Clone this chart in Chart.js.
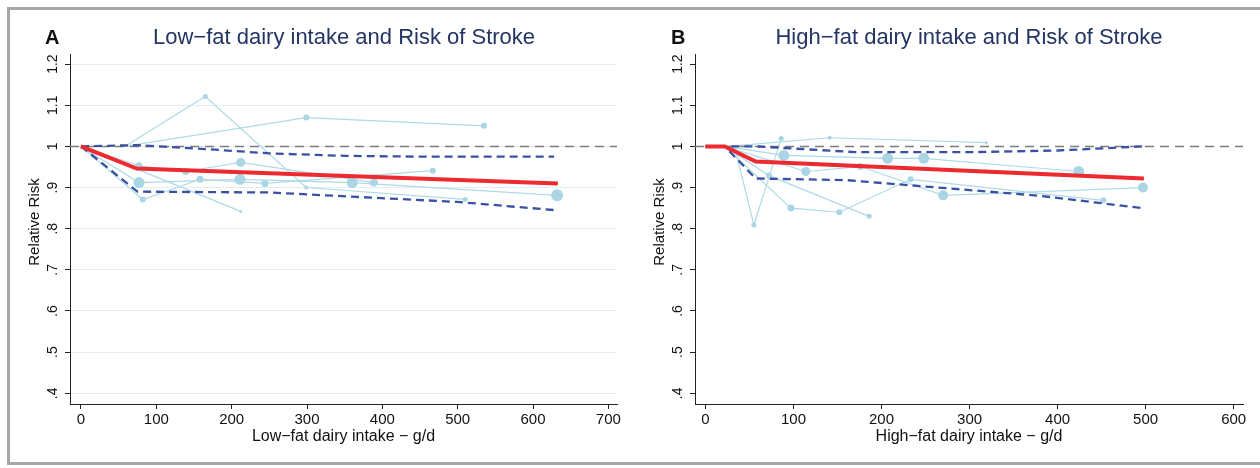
<!DOCTYPE html>
<html>
<head>
<meta charset="utf-8">
<script src="https://cdn.jsdelivr.net/npm/chart.js@4.4.0/dist/chart.umd.min.js"></script>
<style>
  body { margin: 0; background: #fff; width: 1260px; height: 468px; overflow: hidden; position: relative; font-family: "Liberation Sans", Arial, sans-serif; }
  canvas { position: absolute; top: 0; }
  .frame { position: absolute; left: 7px; top: 7px; width: 1300px; height: 452px; border: 3px solid #a6a6a6; border-right: none; }
  .letter { position: absolute; top: 26px; font-size: 20px; font-weight: bold; color: #111; line-height: 22px; }
  .title { position: absolute; top: 24px; font-size: 22px; color: #243463; line-height: 26px; transform: translateX(-50%); white-space: nowrap; }
</style>
</head>
<body>
<div class="frame"></div>
<canvas id="chartA" width="630" height="468" style="left:0"></canvas>
<canvas id="chartB" width="630" height="468" style="left:630px"></canvas>
<div class="letter" style="left:45px">A</div>
<div class="title" style="left:344px">Low−fat dairy intake and Risk of Stroke</div>
<div class="letter" style="left:671px">B</div>
<div class="title" style="left:969px">High−fat dairy intake and Risk of Stroke</div>
<script>
// 軸刻度
const yTickValues = [0.4, 0.5, 0.6, 0.7, 0.8, 0.9, 1, 1.1, 1.2];
const yTickLabels = ['.4', '.5', '.6', '.7', '.8', '.9', '1', '1.1', '1.2'];
const lowTickValues = [0, 100, 200, 300, 400, 500, 600, 700];
const highTickValues = [0, 100, 200, 300, 400, 500, 600];

// A: low-fat dairy, each study's curve (dose g/d, relative risk)
const lowStudyDose = [
    [58, 165, 299, 510],
    [58, 299, 535],
    [0, 77, 211, 360, 632],
    [0, 77, 139, 212, 389],
    [0, 82, 158, 244, 467],
    [0, 212]
];
const lowStudyRR = [
    [1, 1.121, 0.900, 0.871],
    [1, 1.070, 1.050],
    [1, 0.912, 0.920, 0.912, 0.881],
    [1, 0.953, 0.939, 0.961, 0.912],
    [1, 0.871, 0.920, 0.910, 0.941],
    [1, 0.842]
];
// pooled curve and 95% CI
const lowFitDose = [0, 74, 633];
const lowFitRR = [1, 0.946, 0.910];
const lowUpperDose = [0, 74, 170, 250, 350, 450, 628];
const lowUpperRR = [1, 1.003, 0.993, 0.983, 0.977, 0.975, 0.975];
const lowLowerDose = [0, 75, 250, 500, 630];
const lowLowerRR = [1, 0.890, 0.888, 0.865, 0.845];

// B: high-fat dairy
const highStudyDose = [
    [33, 55, 86],
    [25, 141, 319],
    [22, 89, 207, 248, 424],
    [22, 114, 176, 270, 497],
    [22, 72, 186],
    [22, 97, 152, 233, 452]
];
const highStudyRR = [
    [1, 0.809, 1.019],
    [1, 1.021, 1.009],
    [1, 0.978, 0.971, 0.971, 0.939],
    [1, 0.939, 0.951, 0.881, 0.900],
    [1, 0.929, 0.830],
    [1, 0.850, 0.840, 0.920, 0.869]
];
const highFitDose = [0, 22, 57, 498];
const highFitRR = [1, 1, 0.963, 0.922];
const highUpperDose = [0, 22, 57, 170, 300, 400, 496];
const highUpperRR = [1, 1, 1, 0.986, 0.986, 0.990, 1];
const highLowerDose = [0, 22, 57, 160, 380, 496];
const highLowerRR = [1, 1, 0.922, 0.918, 0.880, 0.850];

// 標記大小 (study weight look)
const lowMarkerRadius = [[0, 2.5, 2, 2.5], [0, 3, 3], [0, 5.5, 5.5, 5.5, 6], [0, 3.5, 3.5, 4.5, 4], [0, 3, 3.5, 3.5, 3], [0, 1.5]];
const highMarkerRadius = [[0, 2.5, 2.5], [0, 2, 1.5], [0, 5.5, 5.5, 5.5, 5.5], [0, 4.5, 3.5, 5, 5], [0, 3, 2.5], [0, 3.5, 3, 3, 3]];

const FONT = '"Liberation Sans", Arial, sans-serif';

function toPoints(xs, ys) {
    return xs.map((x, i) => ({ x: x, y: ys[i] }));
}

// 座標軸文字 (rotated y labels, axis titles)
const axisTextPlugin = {
    id: 'axisText',
    afterDraw(chart) {
        const cfg = chart.options.plugins.axisText;
        const ys = chart.scales.y;
        const area = chart.chartArea;
        const ctx = chart.ctx;
        ctx.save();
        ctx.fillStyle = '#111';
        ctx.textAlign = 'center';
        ctx.textBaseline = 'middle';
        ctx.font = '14px ' + FONT;
        yTickValues.forEach((v, i) => {
            ctx.save();
            ctx.translate(area.left - 17, ys.getPixelForValue(v));
            ctx.rotate(-Math.PI / 2);
            ctx.fillText(yTickLabels[i], 0, 0);
            ctx.restore();
        });
        ctx.font = '15px ' + FONT;
        ctx.save();
        ctx.translate(area.left - 35, 222);
        ctx.rotate(-Math.PI / 2);
        ctx.fillText(cfg.yTitle, 0, 0);
        ctx.restore();
        ctx.font = '16px ' + FONT;
        ctx.fillText(cfg.xTitle, (area.left + area.right) / 2, 437);
        ctx.restore();
    }
};

function createPanel(id, p) {
    const datasets = [];
    datasets.push({
        data: toPoints(p.fitDose, p.fitRR), showLine: true, borderColor: '#ec2a30', borderWidth: 4,
        pointRadius: 0, tension: 0, order: 0
    });
    [[p.upperDose, p.upperRR], [p.lowerDose, p.lowerRR]].forEach(([d, r]) => {
        datasets.push({
            data: toPoints(d, r), showLine: true, borderColor: '#3951a3', borderWidth: 2.3,
            borderDash: [8, 5], pointRadius: 0, tension: 0, order: 1
        });
    });
    datasets.push({
        data: [{ x: p.xMin, y: 1 }, { x: p.xMax, y: 1 }], showLine: true, borderColor: '#7c7c7c',
        borderWidth: 1.5, borderDash: [9, 6], pointRadius: 0, order: 2
    });
    p.studyDose.forEach((d, i) => {
        datasets.push({
            data: toPoints(d, p.studyRR[i]), showLine: true, borderColor: '#afd9e7', borderWidth: 1.2,
            pointRadius: p.radius[i], pointBackgroundColor: '#a9d5e4', pointBorderWidth: 0,
            tension: 0, order: 3
        });
    });

    return new Chart(document.getElementById(id).getContext('2d'), {
        type: 'scatter',
        data: { datasets },
        options: {
            responsive: false,
            animation: false,
            devicePixelRatio: 1,
            layout: { padding: { left: 0, top: 54, right: p.padRight, bottom: 0 } },
            plugins: {
                legend: { display: false },
                tooltip: { enabled: false },
                axisText: { xTitle: p.xTitle, yTitle: 'Relative Risk' }
            },
            scales: {
                x: {
                    type: 'linear',
                    min: p.xMin,
                    max: p.xMax,
                    afterBuildTicks: s => { s.ticks = p.xTicks.map(v => ({ value: v })); },
                    afterFit: s => { s.height = 64; },
                    grid: { drawOnChartArea: false, color: '#222', tickLength: 5, lineWidth: 1 },
                    border: { color: '#222', width: 1 },
                    ticks: {
                        color: '#111', font: { family: FONT, size: 15 }, padding: 2,
                        maxRotation: 0, autoSkip: false, callback: v => String(v)
                    }
                },
                y: {
                    type: 'linear',
                    min: 0.374,
                    max: 1.2245,
                    afterBuildTicks: s => { s.ticks = yTickValues.map(v => ({ value: v })); },
                    afterFit: s => { s.width = p.axisLeft; },
                    grid: { drawOnChartArea: p.gridLines, color: '#e2eef1', tickColor: '#222', tickLength: 5, lineWidth: 1 },
                    border: { color: '#222', width: 1 },
                    ticks: { display: false }
                }
            }
        },
        plugins: [axisTextPlugin]
    });
}

createPanel('chartA', {
    studyDose: lowStudyDose, studyRR: lowStudyRR, radius: lowMarkerRadius,
    fitDose: lowFitDose, fitRR: lowFitRR,
    upperDose: lowUpperDose, upperRR: lowUpperRR,
    lowerDose: lowLowerDose, lowerRR: lowLowerRR,
    xTicks: lowTickValues, xMin: -14.6, xMax: 711.5,
    axisLeft: 70, padRight: 13, gridLines: true,
    xTitle: 'Low−fat dairy intake − g/d'
});

createPanel('chartB', {
    studyDose: highStudyDose, studyRR: highStudyRR, radius: highMarkerRadius,
    fitDose: highFitDose, fitRR: highFitRR,
    upperDose: highUpperDose, upperRR: highUpperRR,
    lowerDose: highLowerDose, lowerRR: highLowerRR,
    xTicks: highTickValues, xMin: -11.9, xMax: 610.6,
    axisLeft: 65, padRight: 17, gridLines: false,
    xTitle: 'High−fat dairy intake − g/d'
});
</script>
</body>
</html>
